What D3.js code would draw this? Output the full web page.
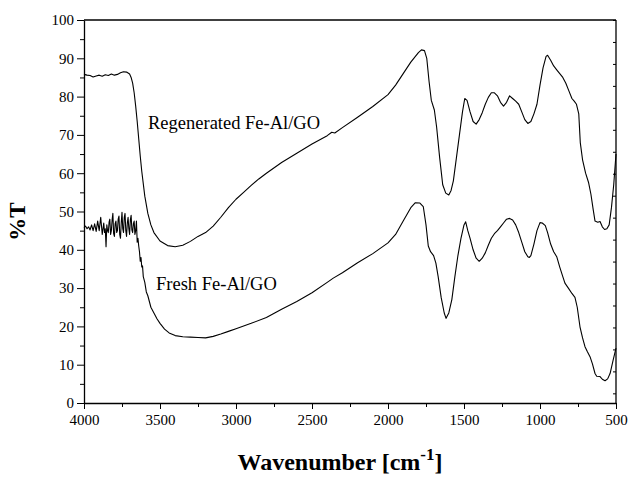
<!DOCTYPE html>
<html>
<head>
<meta charset="utf-8">
<script src="https://cdn.jsdelivr.net/npm/d3@7"></script>
<style>
  body { margin: 0; background: #fff; }
  svg text { font-family: "Liberation Serif", "Times New Roman", serif !important; }
</style>
</head>
<body>
<svg id="chart"></svg>
<script>
// wavenumber (cm-1) and %T
const regenWn = [4000,3980,3960,3940,3920,3900,3880,3860,3840,3820,3800,3780,3760,3740,3720,3700,3690,3680,3670,3660,3650,3640,3630,3620,3600,3580,3560,3540,3500,3450,3400,3350,3300,3250,3200,3150,3100,3050,3000,2950,2900,2850,2800,2700,2600,2500,2400,2370,2350,2300,2200,2100,2000,1950,1900,1850,1800,1780,1760,1745,1730,1715,1695,1680,1660,1640,1620,1600,1585,1570,1550,1530,1510,1495,1480,1460,1440,1420,1400,1380,1360,1340,1320,1300,1280,1260,1240,1220,1200,1180,1160,1140,1120,1100,1080,1060,1040,1020,1000,980,960,950,930,910,890,870,850,830,810,790,775,760,745,735,720,700,680,665,650,638,620,605,590,575,560,545,530,515,500]
const regenT = [85.8,85.6,85.5,85.1,85.4,85.6,85.3,85.7,85.5,85.9,85.6,85.8,86.2,86.5,86.4,85.9,85.0,83.5,81.0,77.5,73.5,69.0,64.5,60.5,54.0,49.5,46.5,44.5,42.3,41.1,40.8,41.2,42.2,43.5,44.5,46.2,48.5,51.0,53.2,55.0,56.8,58.5,60.0,62.8,65.2,67.6,69.8,70.7,70.5,71.9,74.6,77.4,80.5,83.0,86.0,89.0,91.5,92.2,92.0,90.0,84.0,79.0,76.5,72.0,64.0,57.0,54.8,54.3,55.5,58.0,64.0,70.0,76.0,79.5,79.0,76.0,73.5,72.8,74.0,75.8,78.0,79.8,81.0,81.0,80.2,78.5,77.5,78.5,80.2,79.5,78.8,78.0,76.0,74.0,73.0,73.5,75.5,78.0,83.0,87.5,90.5,90.8,89.5,88.0,87.0,86.0,85.0,83.5,81.5,79.5,78.8,78.0,75.5,68.0,63.5,60.0,57.5,54.5,50.5,47.5,47.2,47.4,46.0,45.3,45.5,46.5,51.0,57.0,65.0]

const freshWn = [4000,3990,3980,3970,3960,3950,3940,3930,3920,3910,3900,3890,3880,3870,3865,3860,3855,3850,3845,3840,3835,3830,3825,3820,3815,3810,3805,3800,3795,3790,3785,3780,3775,3770,3765,3760,3755,3750,3745,3740,3735,3730,3725,3720,3715,3710,3705,3700,3695,3690,3685,3680,3675,3670,3665,3660,3655,3650,3645,3640,3635,3630,3625,3620,3615,3610,3600,3590,3580,3570,3560,3540,3520,3500,3470,3440,3400,3350,3300,3250,3200,3150,3100,3050,3000,2900,2800,2700,2600,2500,2400,2360,2300,2200,2100,2000,1950,1900,1850,1820,1790,1768,1750,1735,1720,1700,1685,1670,1650,1630,1618,1600,1580,1560,1540,1520,1500,1489,1475,1460,1440,1420,1400,1380,1360,1340,1320,1300,1280,1260,1240,1220,1200,1180,1160,1140,1120,1100,1080,1070,1060,1040,1020,1000,985,965,950,930,910,890,870,850,836,810,790,770,755,737,720,704,688,671,655,638,627,605,590,572,555,539,520,500]
const freshT = [45.8,46.2,45.5,46.0,45.2,46.5,45.0,46.8,44.8,47.5,45.0,48.5,44.0,47.0,44.5,45.5,40.8,46.5,45.0,44.5,47.2,48.0,44.0,45.0,47.8,49.5,44.2,43.5,46.8,47.5,44.5,45.0,48.0,48.8,44.0,43.0,47.0,49.8,45.5,44.5,48.5,49.5,45.0,43.5,47.0,48.5,45.5,44.0,47.8,49.0,45.2,44.5,46.8,47.5,44.0,45.0,47.5,42.0,43.0,41.0,39.5,37.0,38.0,35.5,35.8,33.0,31.5,29.0,28.0,26.5,25.0,23.5,22.0,20.8,19.3,18.3,17.6,17.3,17.2,17.1,17.0,17.4,18.0,18.7,19.4,20.8,22.3,24.5,26.5,28.8,31.5,32.6,34.0,36.6,39.0,41.8,44.0,47.5,51.0,52.3,52.2,51.3,46.5,41.0,39.5,38.5,36.5,33.0,27.5,23.5,22.1,23.5,27.0,33.0,38.5,43.0,46.5,47.3,45.0,43.0,40.0,37.8,37.0,37.8,39.2,41.2,43.0,44.2,45.0,46.0,47.0,48.0,48.2,47.8,46.5,44.5,42.0,39.5,38.2,38.0,38.5,41.5,45.0,47.1,47.0,46.3,44.5,41.5,39.5,38.2,35.5,33.0,31.3,29.8,28.6,27.6,25.0,19.9,17.0,14.7,13.4,12.1,10.2,7.7,7.0,6.9,6.2,5.8,6.3,7.7,11.0,14.3]

const xMajor = [4000,3500,3000,2500,2000,1500,1000,500]
const xMinor = [3750,3250,2750,2250,1750,1250,750]
const yMajor = [0,10,20,30,40,50,60,70,80,90,100]
const yMinor = [5,15,25,35,45,55,65,75,85,95]
const yRightTicks = [15,20,25,30,35,40,45,50,55,60,65,70,75,80,85,90,95,100]

const width = 630, height = 478
const marginLeft = 84, marginRight = 14, marginTop = 20, marginBottom = 75
const serif = '"Liberation Serif", "Times New Roman", serif'

const svg = d3.select('#chart')
    .attr('width', width)
    .attr('height', height)
    .attr('viewBox', [0, 0, width, height])
    .style('background', '#fff')

const x = d3.scaleLinear().domain([4000, 500]).range([marginLeft, width - marginRight])
const y = d3.scaleLinear().domain([0, 100]).range([height - marginBottom, marginTop])
// the right frame carries its own tick spacing in the original
const yRight = d3.scaleLinear().domain([12.8, 100]).range([height - marginBottom, marginTop])

const line = d3.line()
    .x(d => x(d[0]))
    .y(d => y(d[1]))

const series = [
  d3.zip(regenWn, regenT),
  d3.zip(freshWn, freshT)
]
for (const s of series) {
  svg.append('path')
      .attr('fill', 'none')
      .attr('stroke', '#000')
      .attr('stroke-width', 1.1)
      .attr('stroke-linejoin', 'round')
      .attr('d', line(s))
}

// frame top / right
svg.append('line')
    .attr('x1', x(4000)).attr('x2', x(500))
    .attr('y1', y(100)).attr('y2', y(100))
    .attr('stroke', '#000').attr('stroke-width', 1.3)

svg.append('g')
    .attr('transform', `translate(${x(500)},0)`)
    .call(d3.axisLeft(yRight).tickValues(yRightTicks).tickSize(3).tickFormat('').tickSizeOuter(0))
    .call(g => g.select('.domain').attr('stroke-width', 1.3).attr('d', `M0,${y(0)}V${y(100)}`))

// bottom axis
svg.append('g')
    .attr('transform', `translate(0,${y(0)})`)
    .call(d3.axisBottom(x).tickValues(xMinor).tickSize(4).tickFormat('').tickSizeOuter(0))
    .call(g => g.select('.domain').remove())
svg.append('g')
    .attr('transform', `translate(0,${y(0)})`)
    .call(d3.axisBottom(x).tickValues(xMajor).tickSize(6).tickPadding(5).tickFormat(d3.format('d')).tickSizeOuter(0))
    .attr('font-family', serif)
    .call(g => g.select('.domain').attr('stroke-width', 1.3))
    .call(g => g.selectAll('text').attr('font-size', 15).attr('fill', '#000')
        .style('font-family', serif))

// left axis
svg.append('g')
    .attr('transform', `translate(${x(4000)},0)`)
    .call(d3.axisLeft(y).tickValues(yMinor).tickSize(4).tickFormat('').tickSizeOuter(0))
    .call(g => g.select('.domain').remove())
svg.append('g')
    .attr('transform', `translate(${x(4000)},0)`)
    .call(d3.axisLeft(y).tickValues(yMajor).tickSize(7).tickPadding(3).tickSizeOuter(0))
    .attr('font-family', serif)
    .call(g => g.select('.domain').attr('stroke-width', 1.3))
    .call(g => g.selectAll('text').attr('font-size', 15).attr('fill', '#000')
        .style('font-family', serif))

// curve labels
svg.append('text')
    .attr('x', 148).attr('y', 129)
    .attr('font-size', 18.5)
    .text('Regenerated Fe-Al/GO')
svg.append('text')
    .attr('x', 156).attr('y', 290)
    .attr('font-size', 18.5)
    .text('Fresh Fe-Al/GO')

// axis titles
const xt = svg.append('text')
    .attr('x', 340).attr('y', 470)
    .attr('text-anchor', 'middle')
    .attr('font-size', 24)
    .attr('font-weight', 'bold')
xt.append('tspan').text('Wavenumber [cm')
xt.append('tspan').attr('font-size', 17).attr('dy', -10).text('-1')
xt.append('tspan').attr('dy', 10).text(']')

svg.append('text')
    .attr('transform', `translate(25,${(y(0) + y(100)) / 2 + 10}) rotate(-90)`)
    .attr('text-anchor', 'middle')
    .attr('font-size', 23)
    .attr('font-weight', 'bold')
    .text('%T')
</script>
</body>
</html>
